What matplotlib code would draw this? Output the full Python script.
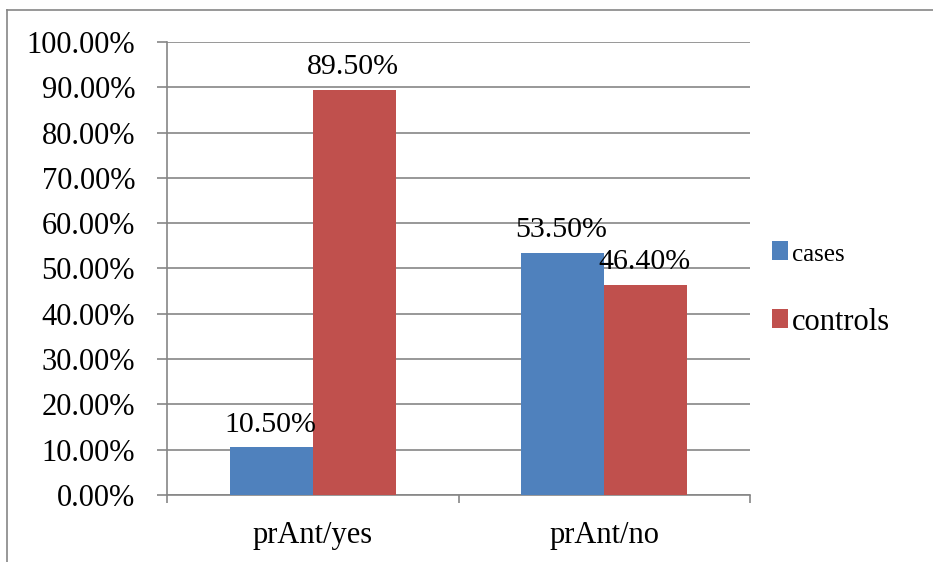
import numpy as np
import matplotlib.pyplot as plt
from matplotlib.lines import Line2D
from matplotlib.ticker import FuncFormatter

plt.rcParams['font.family'] = ['Liberation Serif', 'DejaVu Serif']

categories = ['prAnt/yes', 'prAnt/no']
cases = [0.105, 0.535]
controls = [0.895, 0.464]
yticks = np.arange(0, 1.01, 0.1)

fig = plt.figure(figsize=(9.33, 5.62), dpi=100)
ax = fig.add_axes([0.179, 0.1192, 0.625, 0.8061])

x = np.arange(len(categories))
w = 0.285
b1 = ax.bar(x - w/2, cases, w, color='#4F81BD', label='cases', zorder=3)
b2 = ax.bar(x + w/2, controls, w, color='#C0504D', label='controls', zorder=3)

for bars, vals in ((b1, cases), (b2, controls)):
    for r, v in zip(bars, vals):
        ax.annotate('%.2f%%' % (v*100), (r.get_x() + r.get_width()/2, v),
                    xytext=(-1, 7), textcoords='offset points',
                    ha='center', va='bottom', fontsize=21.5, zorder=4)

ax.set_xlim(-0.5, 1.5)
ax.set_ylim(0, 1.0)
ax.set_yticks(yticks)
ax.yaxis.set_major_formatter(FuncFormatter(lambda v, p: '%.2f%%' % (v*100)))
ax.set_xticks([-0.5, 0.5, 1.5], minor=False)
ax.set_xticklabels([])
ax.set_xticks(x, minor=True)
ax.set_xticklabels(categories, minor=True)
ax.tick_params(axis='x', which='major', length=6, color='#868686', width=1.2)
ax.tick_params(axis='x', which='minor', length=0, pad=19, labelsize=22)
ax.tick_params(axis='y', length=7, color='#868686', width=1.2, pad=16, labelsize=22)

ax.grid(axis='y', color='#868686', lw=1.2, zorder=0)
for s in ('top', 'right'):
    ax.spines[s].set_visible(False)
for s in ('left', 'bottom'):
    ax.spines[s].set_color('#868686')
    ax.spines[s].set_linewidth(1.2)

leg = ax.legend(loc='center left', bbox_to_anchor=(1.0, 0.455), frameon=False,
                fontsize=22, handlelength=0.55, handleheight=0.55, handletextpad=0.12,
                labelspacing=1.35, borderaxespad=0.3)
leg.get_texts()[0].set_fontsize(18)

# outer chart border (left and top edges visible)
fig.add_artist(Line2D([0.0075, 0.0075], [0, 0.982], transform=fig.transFigure, color='#868686', lw=1.2))
fig.add_artist(Line2D([0.0075, 1.0], [0.982, 0.982], transform=fig.transFigure, color='#868686', lw=1.2))

fig.savefig('out.png', dpi=100)
